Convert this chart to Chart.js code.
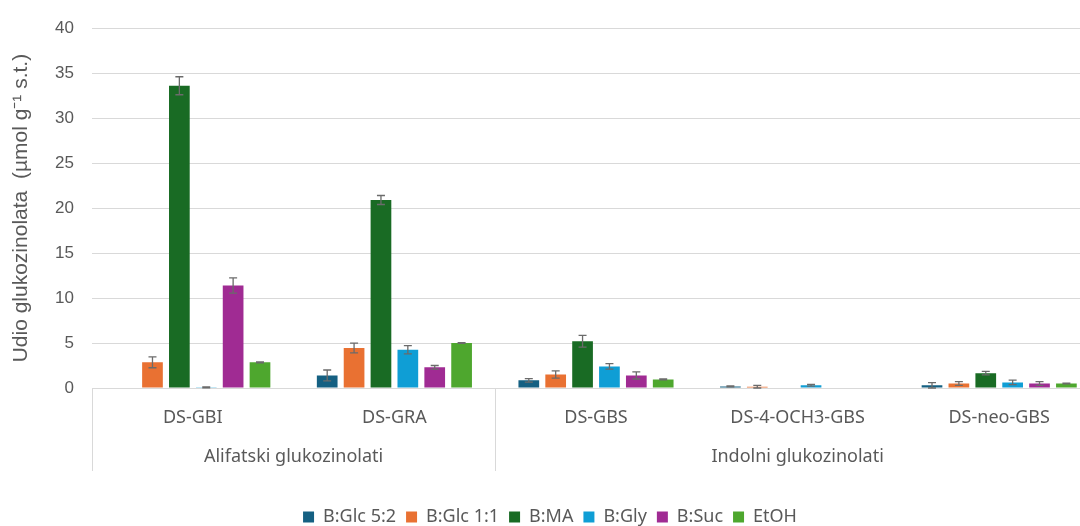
<!DOCTYPE html>
<html>
<head>
<meta charset="utf-8">
<script src="https://cdn.jsdelivr.net/npm/chart.js@4.4.1/dist/chart.umd.min.js"></script>
<style>
  html, body { margin: 0; padding: 0; background: #ffffff; overflow: hidden; }
  #wrap { width: 1100px; height: 526px; }
</style>
</head>
<body>
<div id="wrap"><canvas id="chart" width="1100" height="526"></canvas></div>
<script>
// categories and groups
const categories = ['DS-GBI', 'DS-GRA', 'DS-GBS', 'DS-4-OCH3-GBS', 'DS-neo-GBS'];
const groupNames = ['Alifatski glukozinolati', 'Indolni glukozinolati'];
const groupSizes = [2, 3];

// series values (µmol g-1 s.t.)
const glc52 = [null, 1.4, 0.85, 0.18, 0.3];
const glc11 = [2.85, 4.45, 1.5, 0.15, 0.5];
const ma = [33.6, 20.9, 5.2, null, 1.65];
const gly = [0.08, 4.25, 2.4, 0.3, 0.62];
const suc = [11.4, 2.3, 1.4, null, 0.5];
const etoh = [2.85, 5.0, 0.95, null, 0.5];

// error bars (±)
const errGlc52 = [null, 0.6, 0.2, 0.05, 0.3];
const errGlc11 = [0.6, 0.55, 0.4, 0.15, 0.2];
const errMa = [1.0, 0.5, 0.65, null, 0.2];
const errGly = [0.05, 0.45, 0.3, 0.1, 0.25];
const errSuc = [0.85, 0.2, 0.4, null, 0.2];
const errEtoh = [0.05, 0.05, 0.05, null, 0.05];

const seriesNames = ['B:Glc 5:2', 'B:Glc 1:1', 'B:MA', 'B:Gly', 'B:Suc', 'EtOH'];
const seriesValues = [glc52, glc11, ma, gly, suc, etoh];
const seriesErrors = [errGlc52, errGlc11, errMa, errGly, errSuc, errEtoh];
const seriesColors = ['#156082', '#E97132', '#196B24', '#0F9ED5', '#A02B93', '#4EA72E'];

const yTicks = [0, 5, 10, 15, 20, 25, 30, 35, 40];

const textColor = '#595959';
const gridColor = '#d9d9d9';

// error bars drawn through the y scale
const errorBars = {
    id: 'errorBars',
    afterDatasetsDraw(chart) {
        const ctx = chart.ctx;
        const y = chart.scales.y;
        ctx.save();
        ctx.strokeStyle = '#6b6b6b';
        ctx.lineWidth = 1.3;
        chart.data.datasets.forEach((ds, i) => {
            const meta = chart.getDatasetMeta(i);
            meta.data.forEach((bar, j) => {
                const v = ds.data[j];
                const e = seriesErrors[i][j];
                if (v == null || e == null) return;
                const top = y.getPixelForValue(v + e);
                const bot = y.getPixelForValue(Math.max(0, v - e));
                ctx.beginPath();
                ctx.moveTo(bar.x, top);
                ctx.lineTo(bar.x, bot);
                ctx.moveTo(bar.x - 4, top);
                ctx.lineTo(bar.x + 4, top);
                ctx.moveTo(bar.x - 4, bot);
                ctx.lineTo(bar.x + 4, bot);
                ctx.stroke();
            });
        });
        ctx.restore();
    }
};

// group labels and separators under the category axis
const groupAxis = {
    id: 'groupAxis',
    afterDraw(chart) {
        const ctx = chart.ctx;
        const x = chart.scales.x;
        const cw = (x.right - x.left) / categories.length;
        const bottom = x.top + 83;
        ctx.save();
        ctx.strokeStyle = gridColor;
        ctx.lineWidth = 1;
        let start = 0;
        const edges = [0];
        groupSizes.forEach(n => { start += n; edges.push(start); });
        edges.forEach(k => {
            const px = Math.round(x.left + k * cw) + 0.5;
            ctx.beginPath();
            ctx.moveTo(px, x.top);
            ctx.lineTo(px, bottom);
            ctx.stroke();
        });
        ctx.fillStyle = textColor;
        ctx.font = '18px "Noto Sans"';
        ctx.textAlign = 'center';
        ctx.textBaseline = 'middle';
        groupNames.forEach((name, g) => {
            const cx = x.left + (edges[g] + edges[g + 1]) / 2 * cw;
            ctx.fillText(name, cx, x.top + 69);
        });
        ctx.restore();
    }
};

new Chart(document.getElementById('chart'), {
    type: 'bar',
    data: {
        labels: categories,
        datasets: seriesNames.map((name, i) => ({
            label: name,
            data: seriesValues[i],
            backgroundColor: seriesColors[i],
            borderWidth: 0,
            categoryPercentage: 0.8,
            barPercentage: 0.77
        }))
    },
    options: {
        responsive: false,
        animation: false,
        layout: { padding: { top: 22, left: 0, right: 0, bottom: -10 } },
        plugins: {
            tooltip: { enabled: false },
            legend: {
                position: 'bottom',
                labels: {
                    color: textColor,
                    font: { family: '"Noto Sans"', size: 18 },
                    boxWidth: 11,
                    boxHeight: 11,
                    padding: 10
                }
            }
        },
        scales: {
            x: {
                grid: { display: false, drawTicks: false },
                border: { display: true, color: gridColor },
                ticks: {
                    color: textColor,
                    font: { family: '"Noto Sans"', size: 18 },
                    padding: 19,
                    maxRotation: 0,
                    autoSkip: false
                },
                afterFit(axis) { axis.height = 110; }
            },
            y: {
                min: 0,
                max: 40,
                grid: { color: gridColor, drawTicks: false },
                border: { display: false },
                afterBuildTicks(axis) { axis.ticks = yTicks.map(v => ({ value: v })); },
                ticks: {
                    color: textColor,
                    font: { family: '"Liberation Sans"', size: 17 },
                    padding: 18
                },
                title: {
                    display: true,
                    text: 'Udio glukozinolata  (µmol g⁻¹ s.t.)',
                    color: textColor,
                    font: { family: '"Liberation Sans"', size: 21 },
                    padding: { top: 9, bottom: 0 }
                },
                afterFit(axis) { axis.width = 92; }
            }
        }
    },
    plugins: [errorBars, groupAxis]
});
</script>
</body>
</html>
